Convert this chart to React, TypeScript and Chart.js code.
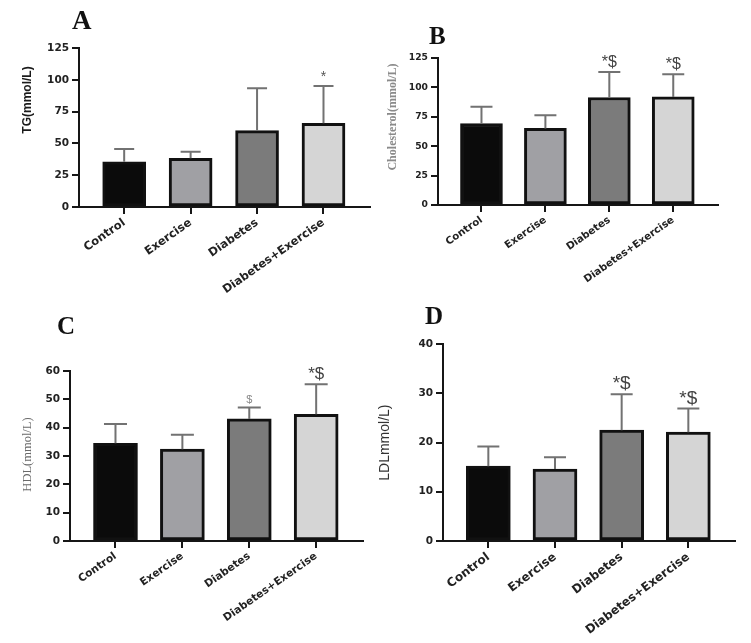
import React, { useEffect, useRef } from "react";
import { Chart, registerables } from "chart.js";

Chart.register(...registerables);

// ---- data ----
const categories = ["Control", "Exercise", "Diabetes", "Diabetes+Exercise"];
const barColors = ["#0b0b0b", "#a0a0a4", "#7b7b7b", "#d5d5d5"];

const tgMean = [35.6, 38.3, 60.0, 65.8];
const tgSd = [10.0, 5.2, 33.3, 29.3];
const tgMarks = ["", "", "", "*"];
const tgTicks = [0, 25, 50, 75, 100, 125];

const cholMean = [69.3, 65.1, 91.4, 91.9];
const cholSd = [14.2, 11.3, 21.8, 19.3];
const cholMarks = ["", "", "*$", "*$"];
const cholTicks = [0, 25, 50, 75, 100, 125];

const hdlMean = [34.5, 32.4, 43.1, 44.7];
const hdlSd = [6.8, 5.1, 4.0, 10.6];
const hdlMarks = ["", "", "$", "*$"];
const hdlTicks = [0, 10, 20, 30, 40, 50, 60];

const ldlMean = [15.2, 14.6, 22.5, 22.1];
const ldlSd = [4.0, 2.4, 7.3, 4.8];
const ldlMarks = ["", "", "*$", "*$"];
const ldlTicks = [0, 10, 20, 30, 40];

// ---- layout / styling ----
type Box = { left: number; top: number; width: number; height: number };
type Area = { left: number; right: number; top: number; bottom: number };

type PanelSpec = {
  letter: string;
  yTitle: string;
  mean: number[];
  sd: number[];
  marks: string[];
  ticks: number[];
  box: Box; // canvas placement on the page
  plot: Area; // plot area on the page
  letterAt: { x: number; y: number; size: number };
  titleAt: { x: number; y: number };
  titleFont: string;
  titleColor: string;
  tickSize: number;
  labelSize: number;
  labelRotation: number;
  barWidth: number;
  capWidth: number;
  markSizes: number[];
  markColors: string[];
};

const SANS = "'Liberation Sans', Arial, sans-serif";
const WIDE = "'DejaVu Sans', sans-serif";
const SERIF = "'Liberation Serif', 'Times New Roman', serif";
const AXIS = "#161616";
const ERR = "#727272";

const panels: PanelSpec[] = [
  {
    letter: "A",
    yTitle: "TG(mmol/L)",
    mean: tgMean,
    sd: tgSd,
    marks: tgMarks,
    ticks: tgTicks,
    box: { left: 0, top: 0, width: 375, height: 305 },
    plot: { left: 79, right: 370, top: 48, bottom: 207 },
    letterAt: { x: 72, y: 29, size: 27 },
    titleAt: { x: 28, y: 100 },
    titleFont: `bold 12px ${SANS}`,
    titleColor: "#1a1a1a",
    tickSize: 10.5,
    labelSize: 11.5,
    labelRotation: 35,
    barWidth: 43,
    capWidth: 20,
    markSizes: [14, 14, 14, 14],
    markColors: ["#555", "#555", "#555", "#555"],
  },
  {
    letter: "B",
    yTitle: "Cholesterol(mmol/L)",
    mean: cholMean,
    sd: cholSd,
    marks: cholMarks,
    ticks: cholTicks,
    box: { left: 375, top: 0, width: 376, height: 305 },
    plot: { left: 438, right: 718, top: 58, bottom: 205 },
    letterAt: { x: 429, y: 44, size: 25 },
    titleAt: { x: 392.5, y: 117 },
    titleFont: `bold 12px ${SERIF}`,
    titleColor: "#8a8a8a",
    tickSize: 9.2,
    labelSize: 10.2,
    labelRotation: 35,
    barWidth: 42,
    capWidth: 22,
    markSizes: [16, 16, 16, 16],
    markColors: ["#444", "#444", "#444", "#444"],
  },
  {
    letter: "C",
    yTitle: "HDL(mmol/L)",
    mean: hdlMean,
    sd: hdlSd,
    marks: hdlMarks,
    ticks: hdlTicks,
    box: { left: 0, top: 305, width: 375, height: 338 },
    plot: { left: 70, right: 363, top: 371, bottom: 541 },
    letterAt: { x: 57, y: 334, size: 25 },
    titleAt: { x: 28, y: 454.5 },
    titleFont: `12.5px ${SERIF}`,
    titleColor: "#6a6a6a",
    tickSize: 10.5,
    labelSize: 10.6,
    labelRotation: 35,
    barWidth: 44,
    capWidth: 23,
    markSizes: [17, 17, 11, 17],
    markColors: ["#444", "#444", "#888", "#444"],
  },
  {
    letter: "D",
    yTitle: "LDLmmol/L)",
    mean: ldlMean,
    sd: ldlSd,
    marks: ldlMarks,
    ticks: ldlTicks,
    box: { left: 375, top: 300, width: 376, height: 343 },
    plot: { left: 443, right: 735, top: 344, bottom: 541 },
    letterAt: { x: 425, y: 324, size: 25 },
    titleAt: { x: 385, y: 442.6 },
    titleFont: `14px ${SANS}`,
    titleColor: "#333",
    tickSize: 10.5,
    labelSize: 12,
    labelRotation: 37,
    barWidth: 44,
    capWidth: 22,
    markSizes: [19, 19, 19, 19],
    markColors: ["#444", "#444", "#444", "#444"],
  },
];

const X_MIN = -0.68;
const X_MAX = 3.7;

function Panel({ spec }: { spec: PanelSpec }) {
  const ref = useRef<HTMLCanvasElement | null>(null);

  useEffect(() => {
    const canvas = ref.current;
    if (!canvas) return;
    const { box, plot } = spec;
    const yWidth = plot.left - box.left;
    const xHeight = box.top + box.height - plot.bottom;

    // error bars, significance marks, panel letter and rotated y title
    const decorations = {
      id: "decorations",
      afterDatasetsDraw(chart: any) {
        const ctx = chart.ctx as CanvasRenderingContext2D;
        const yScale = chart.scales.y;
        const meta = chart.getDatasetMeta(0);
        ctx.save();
        spec.mean.forEach((m, i) => {
          const el = meta.data[i];
          if (!el) return;
          const cx = el.x;
          const yTop = yScale.getPixelForValue(m);
          const yErr = yScale.getPixelForValue(m + spec.sd[i]);
          ctx.strokeStyle = ERR;
          ctx.lineWidth = 2;
          ctx.beginPath();
          ctx.moveTo(cx, yTop);
          ctx.lineTo(cx, yErr);
          ctx.moveTo(cx - spec.capWidth / 2, yErr);
          ctx.lineTo(cx + spec.capWidth / 2, yErr);
          ctx.stroke();
          const mark = spec.marks[i];
          if (mark) {
            ctx.fillStyle = spec.markColors[i];
            ctx.font = `${spec.markSizes[i]}px ${SANS}`;
            ctx.textAlign = "center";
            ctx.textBaseline = "alphabetic";
            ctx.fillText(mark, cx, yErr - 5);
          }
        });
        ctx.restore();
      },
      afterDraw(chart: any) {
        const ctx = chart.ctx as CanvasRenderingContext2D;
        ctx.save();
        ctx.fillStyle = "#111";
        ctx.font = `bold ${spec.letterAt.size}px ${SERIF}`;
        ctx.textAlign = "left";
        ctx.textBaseline = "alphabetic";
        ctx.fillText(spec.letter, spec.letterAt.x - box.left, spec.letterAt.y - box.top);

        ctx.translate(spec.titleAt.x - box.left, spec.titleAt.y - box.top);
        ctx.rotate(-Math.PI / 2);
        ctx.font = spec.titleFont;
        ctx.fillStyle = spec.titleColor;
        ctx.textAlign = "center";
        ctx.textBaseline = "middle";
        ctx.fillText(spec.yTitle, 0, 0);
        ctx.restore();
      },
    };

    const chart = new Chart(canvas, {
      type: "bar",
      data: {
        datasets: [
          {
            data: spec.mean.map((v, i) => ({ x: i, y: v })),
            backgroundColor: barColors,
            borderColor: "#111",
            borderWidth: 3,
            borderSkipped: false,
            barThickness: spec.barWidth,
          } as any,
        ],
      },
      options: {
        responsive: false,
        maintainAspectRatio: false,
        animation: false,
        layout: {
          padding: {
            left: 0,
            top: plot.top - box.top,
            right: box.left + box.width - plot.right,
            bottom: 0,
          },
        },
        plugins: {
          legend: { display: false },
          tooltip: { enabled: false },
          title: { display: false },
        },
        scales: {
          x: {
            type: "linear",
            offset: false,
            min: X_MIN,
            max: X_MAX,
            afterBuildTicks: (s: any) => {
              s.ticks = categories.map((_, i) => ({ value: i }));
            },
            afterFit: (s: any) => {
              s.height = xHeight;
            },
            ticks: {
              autoSkip: false,
              minRotation: spec.labelRotation,
              maxRotation: spec.labelRotation,
              padding: 2,
              color: "#222",
              font: { family: WIDE, size: spec.labelSize, weight: "bold" },
              callback: (v: any) => categories[Math.round(Number(v))] ?? "",
            },
            grid: {
              display: true,
              offset: false,
              drawOnChartArea: false,
              drawTicks: true,
              tickLength: 7,
              color: AXIS,
              lineWidth: 2,
            },
            border: { display: true, color: AXIS, width: 2 },
          },
          y: {
            type: "linear",
            min: spec.ticks[0],
            max: spec.ticks[spec.ticks.length - 1],
            afterBuildTicks: (s: any) => {
              s.ticks = spec.ticks.map((v) => ({ value: v }));
            },
            afterFit: (s: any) => {
              s.width = yWidth;
            },
            ticks: {
              padding: 3,
              color: "#222",
              font: { family: WIDE, size: spec.tickSize, weight: "bold" },
            },
            grid: {
              display: true,
              drawOnChartArea: false,
              drawTicks: true,
              tickLength: 7,
              color: AXIS,
              lineWidth: 2,
            },
            border: { display: true, color: AXIS, width: 2 },
          },
        },
      } as any,
      plugins: [decorations],
    });

    return () => chart.destroy();
  }, [spec]);

  return (
    <canvas
      ref={ref}
      width={spec.box.width}
      height={spec.box.height}
      style={{
        position: "absolute",
        left: spec.box.left,
        top: spec.box.top,
        width: spec.box.width,
        height: spec.box.height,
      }}
    />
  );
}

export default function App() {
  return (
    <div
      style={{
        position: "absolute",
        left: 0,
        top: 0,
        width: 751,
        height: 643,
        background: "#ffffff",
        overflow: "hidden",
      }}
    >
      {panels.map((p) => (
        <Panel key={p.letter} spec={p} />
      ))}
    </div>
  );
}
